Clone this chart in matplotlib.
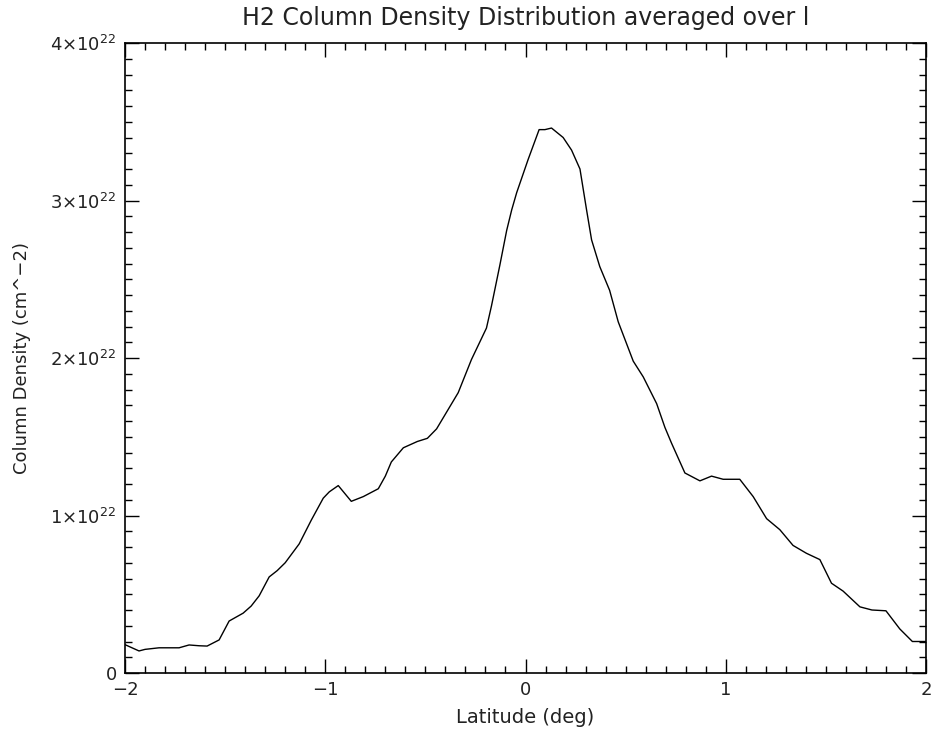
import matplotlib
matplotlib.use("Agg")
import matplotlib.pyplot as plt
from matplotlib.ticker import MultipleLocator, FixedLocator

# latitude (deg) and column density (units of 1e22 cm^-2)
lat = [-2.00, -1.93, -1.90, -1.83, -1.73, -1.68, -1.63, -1.59, -1.53, -1.48,
       -1.41, -1.37, -1.33, -1.28, -1.24, -1.20, -1.13, -1.07, -1.01, -0.98,
       -0.935, -0.87, -0.81, -0.735, -0.70, -0.67, -0.61, -0.54, -0.49, -0.444,
       -0.336, -0.27, -0.195, -0.17, -0.128, -0.094, -0.069, -0.044, 0.013, 0.068,
       0.097, 0.130, 0.188, 0.23, 0.272, 0.305, 0.33, 0.371, 0.42, 0.463,
       0.505, 0.538, 0.588, 0.655, 0.696, 0.729, 0.796, 0.871, 0.929, 0.987,
       1.07, 1.137, 1.204, 1.27, 1.336, 1.403, 1.47, 1.528, 1.586, 1.67,
       1.73, 1.80, 1.869, 1.932, 2.00]
density = [0.18, 0.14, 0.15, 0.16, 0.16, 0.178, 0.173, 0.171, 0.21, 0.33,
           0.38, 0.425, 0.49, 0.61, 0.65, 0.70, 0.82, 0.97, 1.11, 1.15,
           1.19, 1.09, 1.12, 1.17, 1.25, 1.34, 1.43, 1.47, 1.49, 1.55,
           1.78, 1.99, 2.19, 2.33, 2.59, 2.81, 2.94, 3.05, 3.26, 3.45,
           3.45, 3.46, 3.40, 3.32, 3.20, 2.94, 2.75, 2.58, 2.43, 2.23,
           2.09, 1.98, 1.88, 1.71, 1.56, 1.46, 1.27, 1.22, 1.25, 1.23,
           1.23, 1.12, 0.98, 0.91, 0.81, 0.76, 0.72, 0.57, 0.52, 0.42,
           0.40, 0.395, 0.28, 0.20, 0.20]

x_ticks = [-2, -1, 0, 1, 2]
x_labels = ["\u22122", "\u22121", "0", "1", "2"]
y_ticks = [0, 1, 2, 3, 4]
y_labels = ["0", r"$1{\times}10^{22}$", r"$2{\times}10^{22}$",
            r"$3{\times}10^{22}$", r"$4{\times}10^{22}$"]


def main():
    plt.rcParams["font.family"] = ["DejaVu Sans"]
    plt.rcParams["mathtext.fontset"] = "dejavusans"

    fig = plt.figure(figsize=(9.33, 7.33), dpi=100)
    ax = fig.add_axes([125 / 933, 60 / 733, 801 / 933, 630 / 733])

    ax.plot(lat, density, color="k", linewidth=1.0)

    ax.set_xlim(-2, 2)
    ax.set_ylim(0, 4)
    ax.xaxis.set_major_locator(FixedLocator(x_ticks))
    ax.set_xticklabels(x_labels)
    ax.xaxis.set_minor_locator(MultipleLocator(0.1))
    ax.yaxis.set_major_locator(FixedLocator(y_ticks))
    ax.set_yticklabels(y_labels)
    ax.yaxis.set_minor_locator(MultipleLocator(0.1))

    ax.tick_params(which="both", direction="in", top=True, right=True,
                   color="k", width=1.0, labelsize=13, labelcolor="#222222")
    ax.tick_params(which="major", length=10, pad=6)
    ax.tick_params(which="minor", length=5)
    for s in ax.spines.values():
        s.set_linewidth(1.2)

    ax.set_title("H2 Column Density Distribution averaged over l",
                 fontsize=17, color="#222222", pad=13)
    ax.set_xlabel("Latitude (deg)", fontsize=14, color="#222222", labelpad=6)
    ax.set_ylabel("Column Density (cm^\u22122)", fontsize=13,
                  color="#222222", labelpad=14)

    fig.savefig("out.png", dpi=100, facecolor="white")


if __name__ == "__main__":
    main()
